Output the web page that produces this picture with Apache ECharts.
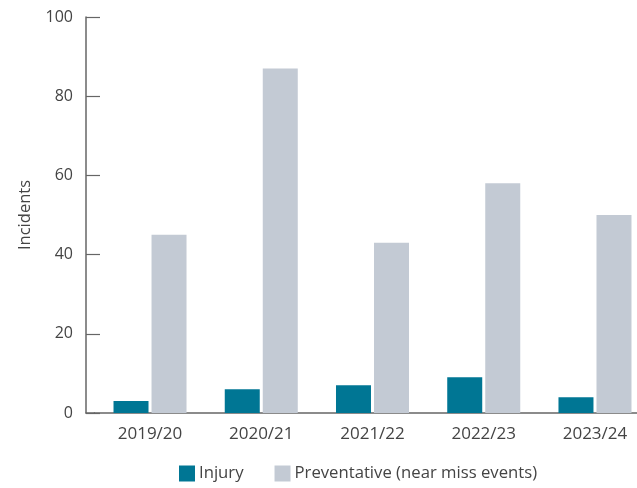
<!DOCTYPE html>
<html>
<head>
<meta charset="utf-8">
<script src="https://cdn.jsdelivr.net/npm/echarts@6/dist/echarts.min.js"></script>
<style>
html,body{margin:0;padding:0;background:#fff;overflow:hidden;}
#wrap{width:637px;height:488px;overflow:hidden;}
#c{width:651px;height:488px;}
</style>
</head>
<body>
<div id="wrap"><div id="c"></div></div>
<script>
const categories = ['2019/20', '2020/21', '2021/22', '2022/23', '2023/24'];
const injury = [3, 6, 7, 9, 4];
const preventative = [45, 87, 43, 58, 50];
const yTicks = { min: 0, max: 100, interval: 20 };
const seriesNames = ['Injury', 'Preventative (near miss events)'];

const font = '"Open Sans", "Noto Sans", sans-serif';
const chart = echarts.init(document.getElementById('c'), null, { renderer: 'canvas' });
chart.setOption({
  animation: false,
  textStyle: { fontFamily: font },
  grid: { left: 94.4, right: 0.4, top: 17, bottom: 75, containLabel: false },
  legend: {
    left: 179, top: 465, padding: 0,
    itemWidth: 16, itemHeight: 16, itemGap: 31,
    icon: 'rect',
    textStyle: { fontFamily: font, fontSize: 16.7, color: '#444', padding: [0, 0, 0, -1] },
    data: seriesNames
  },
  xAxis: {
    type: 'category',
    data: categories,
    boundaryGap: true,
    axisLine: { lineStyle: { color: '#666', width: 1.5 } },
    axisTick: { inside: true, length: 11, lineStyle: { color: '#888', width: 1.5 },
      interval: function (i) { return i !== 0; } },
    axisLabel: { fontFamily: font, fontSize: 17, color: '#444', margin: 13 }
  },
  yAxis: {
    type: 'value',
    min: yTicks.min, max: yTicks.max, interval: yTicks.interval,
    offset: 8.4,
    name: 'Incidents',
    nameLocation: 'middle',
    nameGap: 52,
    nameTextStyle: { fontFamily: font, fontSize: 16.5, color: '#444' },
    axisLine: { show: true, lineStyle: { color: '#666', width: 1.5 } },
    axisTick: { show: true, inside: true, length: 14, lineStyle: { color: '#666', width: 1.2 } },
    axisLabel: { fontFamily: font, fontSize: 16, color: '#444', margin: 13 },
    splitLine: { show: false }
  },
  graphic: [{
    type: 'line',
    shape: { x1: 85.5, y1: 413, x2: 95, y2: 413 },
    style: { stroke: '#666', lineWidth: 1.5 }
  }],
  series: [
    { name: seriesNames[0], type: 'bar', data: injury, barWidth: 35, barGap: '8.6%',
      itemStyle: { color: '#007694' } },
    { name: seriesNames[1], type: 'bar', data: preventative, barWidth: 35,
      itemStyle: { color: '#c3cad4' } }
  ]
});
</script>
</body>
</html>
